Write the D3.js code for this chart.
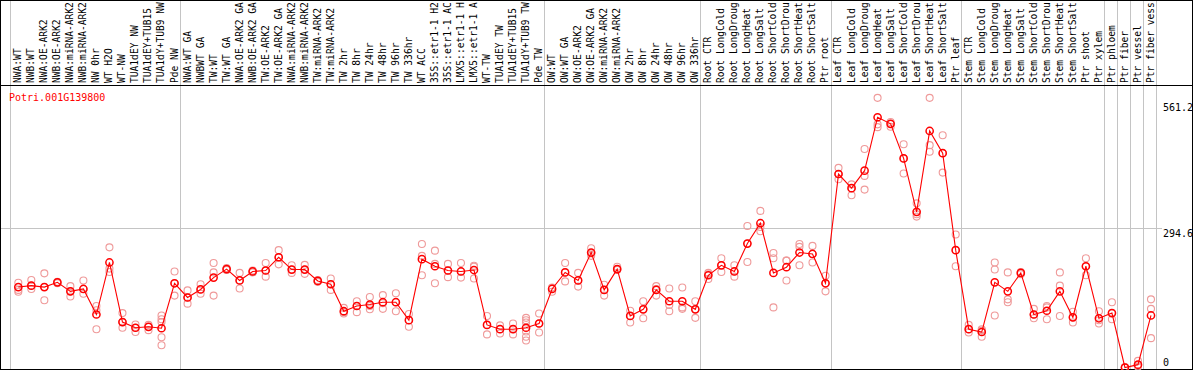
<!DOCTYPE html>
<html>
<head>
<meta charset="utf-8">
<script src="https://cdn.jsdelivr.net/npm/d3@7"></script>
<style>
  body { margin: 0; background: #fff; }
  text { font-family: "DejaVu Sans Mono", monospace; }
</style>
</head>
<body>
<div id="chart"></div>
<script>
// sample labels, one per column
const labels = ["NWA:WT", "NWB:WT", "NWA:OE-ARK2", "NWB:OE-ARK2", "NWA:miRNA-ARK2", "NWB:miRNA-ARK2", "NW 0hr", "WT H2O", "WT-NW", "TUA1dEY NW", "TUA1dEY+TUB15", "TUA1dY+TUB9 NW", "Pde NW",
  "NWA:WT GA", "NWBWT GA", "TW:WT", "TW:WT GA", "NWA:OE-ARK2 GA", "NWB:OE-ARK2 GA", "TW:OE-ARK2", "TW:OE-ARK2 GA", "NWA:miRNA-ARK2", "NWB:miRNA-ARK2", "TW:miRNA-ARK2", "TW:miRNA-ARK2",
  "TW 2hr", "TW 8hr", "TW 24hr", "TW 48hr", "TW 96hr", "TW 336hr", "WT ACC", "35S::etr1-1 H2", "35S::etr1-1 AC", "LMX5::etr1-1 H", "LMX5::etr1-1 A", "WT-TW", "TUA1dEY TW", "TUA1dEY+TUB15", "TUA1dY+TUB9 TW", "Pde TW",
  "OW:WT", "OW:WT GA", "OW:OE-ARK2", "OW:OE-ARK2 GA", "OW:miRNA-ARK2", "OW:miRNA-ARK2", "OW 2hr", "OW 8hr", "OW 24hr", "OW 48hr", "OW 96hr", "OW 336hr",
  "Root CTR", "Root LongCold", "Root LongDroug", "Root LongHeat", "Root LongSalt", "Root ShortCold", "Root ShortDrou", "Root ShortHeat", "Root ShortSalt", "Ptr root",
  "Leaf CTR", "Leaf LongCold", "Leaf LongDroug", "Leaf LongHeat", "Leaf LongSalt", "Leaf ShortCold", "Leaf ShortDrou", "Leaf ShortHeat", "Leaf ShortSalt", "Ptr leaf",
  "Stem CTR", "Stem LongCold", "Stem LongDroug", "Stem LongHeat", "Stem LongSalt", "Stem ShortCold", "Stem ShortDrou", "Stem ShortHeat", "Stem ShortSalt", "Ptr shoot", "Ptr xylem",
  "Ptr phloem", "Ptr fiber", "Ptr vessel", "Ptr fiber vess"];

// mean expression per column
const means = [170, 173, 170, 180, 161, 166, 112, 222, 96, 84, 86, 83, 178,
  148, 165, 190, 208, 184, 203, 205, 233, 207, 207, 183, 176,
  119, 130, 133, 138, 138, 100, 229, 214, 205, 203, 206, 90, 81, 81, 84, 93,
  166, 201, 184, 243, 164, 208, 109, 123, 164, 140, 140, 123,
  195, 216, 203, 262, 305, 200, 212, 243, 240, 178,
  409, 379, 416, 529, 515, 442, 329, 500, 453, 248,
  81, 75, 180, 161, 200, 112, 120, 161, 106, 214, 104,
  115, 0, 6, 110];

// individual replicates per column
const replicates = [[179, 164, 160], [185, 173, 166], [199, 142, 170], [181, 179, 178], [172, 150, 161], [184, 156, 166], [130, 121, 81], [254, 202, 209], [115, 84, 96], [91, 75, 84], [90, 79, 86], [110, 102, 96, 64, 47], [203, 152, 178],
  [163, 135, 148], [176, 156, 165], [221, 201, 152], [210, 207, 206], [200, 167, 184], [205, 201, 203], [221, 192, 205], [248, 218, 233], [216, 200, 207], [217, 198, 207], [185, 182, 181], [188, 164, 176],
  [126, 114, 117], [140, 117, 130], [149, 123, 130], [153, 124, 136], [157, 119, 138], [113, 86, 100], [261, 236, 195], [247, 219, 178], [219, 191, 205], [221, 190, 203], [215, 188, 213], [109, 70, 90], [89, 72, 81], [93, 70, 81], [105, 100, 95, 76, 65, 57], [114, 74, 93],
  [169, 160, 168], [221, 182, 201], [200, 171, 184], [252, 241, 236], [175, 152, 164], [213, 206, 208], [120, 95, 109], [140, 104, 123], [172, 152, 166], [167, 119, 132], [169, 127, 124], [140, 105, 123],
  [200, 187, 197], [231, 202, 216], [216, 192, 203], [299, 223, 262], [331, 288, 297], [242, 231, 127], [226, 184, 226], [261, 255, 216], [257, 222, 240], [194, 161, 178],
  [422, 398, 409], [387, 364, 379], [462, 405, 376], [570, 514, 508], [519, 509, 515], [472, 410, 442], [347, 324, 319], [570, 470, 456], [491, 412, 453], [281, 214, 248],
  [90, 74, 81], [81, 65, 78], [222, 207, 110], [201, 144, 138], [200, 197, 202], [124, 104, 112], [130, 102, 127], [201, 173, 109], [118, 95, 106], [231, 195, 214], [119, 93, 100],
  [138, 102, 115], [0, 1, 0], [14, 5, 2], [144, 124, 62]];

// column indices where a group separator is drawn
const groupBreaks = [0, 13, 41, 53, 63, 73, 84, 85, 86, 87, 88];
const yTicks = [561.2, 294.6, 0];
const gridTicks = [294.6];
const geneName = "Potri.001G139800";

const W = 1194, H = 370;
const svg = d3.select("#chart").append("svg")
  .attr("width", W).attr("height", H);

const x = d3.scaleLinear().domain([0, labels.length]).range([10.3, 1156]);
const y = d3.scaleLinear().domain([0, 561.2]).range([367.5, 102]);
const cx = i => x(i + 0.5) + 1.5;

// clip for the header labels
svg.append("clipPath").attr("id", "hdr")
  .append("rect").attr("x", 0).attr("y", 1).attr("width", W).attr("height", 84);

// grid lines
svg.append("g").selectAll("line")
  .data(groupBreaks)
  .join("line")
  .attr("x1", d => Math.round(x(d)) + 0.5)
  .attr("x2", d => Math.round(x(d)) + 0.5)
  .attr("y1", 0).attr("y2", 369)
  .attr("stroke", "#c4c4c4");

svg.append("g").selectAll("line")
  .data(gridTicks)
  .join("line")
  .attr("x1", 0).attr("x2", 1162)
  .attr("y1", d => Math.round(y(d)) + 0.5)
  .attr("y2", d => Math.round(y(d)) + 0.5)
  .attr("stroke", "#c4c4c4");

// header labels
svg.append("g").attr("clip-path", "url(#hdr)")
  .selectAll("text")
  .data(labels)
  .join("text")
  .attr("transform", (d, i) => `translate(${x(i + 0.5) + 1},83) rotate(-90)`)
  .attr("dy", "0.36em")
  .style("font-size", "9.6px")
  .attr("fill", "#000")
  .text(d => d);

// header separator and frame
svg.append("line")
  .attr("x1", 0).attr("x2", 1192.5).attr("y1", 85.5).attr("y2", 85.5)
  .attr("stroke", "#000");
svg.append("rect")
  .attr("x", 0.5).attr("y", 0.5).attr("width", 1192).attr("height", 369)
  .attr("fill", "none").attr("stroke", "#000");

// title
svg.append("text")
  .attr("x", 9).attr("y", 100.5)
  .style("font-size", "10px")
  .attr("fill", "#ff0000")
  .text(geneName);

// y tick labels on the right
svg.append("g").selectAll("text")
  .data(yTicks)
  .join("text")
  .attr("x", 1163)
  .attr("y", d => Math.min(y(d) + 8.6, 365.5))
  .style("font-size", "10px")
  .attr("fill", "#000")
  .text(d => d);

// replicate circles
const reps = replicates.flatMap((r, i) => r.map(v => ({ i, v })));
svg.append("g").selectAll("circle")
  .data(reps)
  .join("circle")
  .attr("cx", d => cx(d.i))
  .attr("cy", d => y(d.v))
  .attr("r", 3.5)
  .attr("fill", "none")
  .attr("stroke", "#ef9a9a")
  .attr("stroke-width", 1.1);

// mean line
svg.append("path")
  .datum(means)
  .attr("fill", "none")
  .attr("stroke", "#ff0000")
  .attr("stroke-width", 1.1)
  .attr("d", d3.line().x((d, i) => cx(i)).y(d => y(d)));

// mean circles
svg.append("g").selectAll("circle")
  .data(means)
  .join("circle")
  .attr("cx", (d, i) => cx(i))
  .attr("cy", d => y(d))
  .attr("r", 3.6)
  .attr("fill", "none")
  .attr("stroke", "#ff0000")
  .attr("stroke-width", 1.5);
</script>
</body>
</html>
